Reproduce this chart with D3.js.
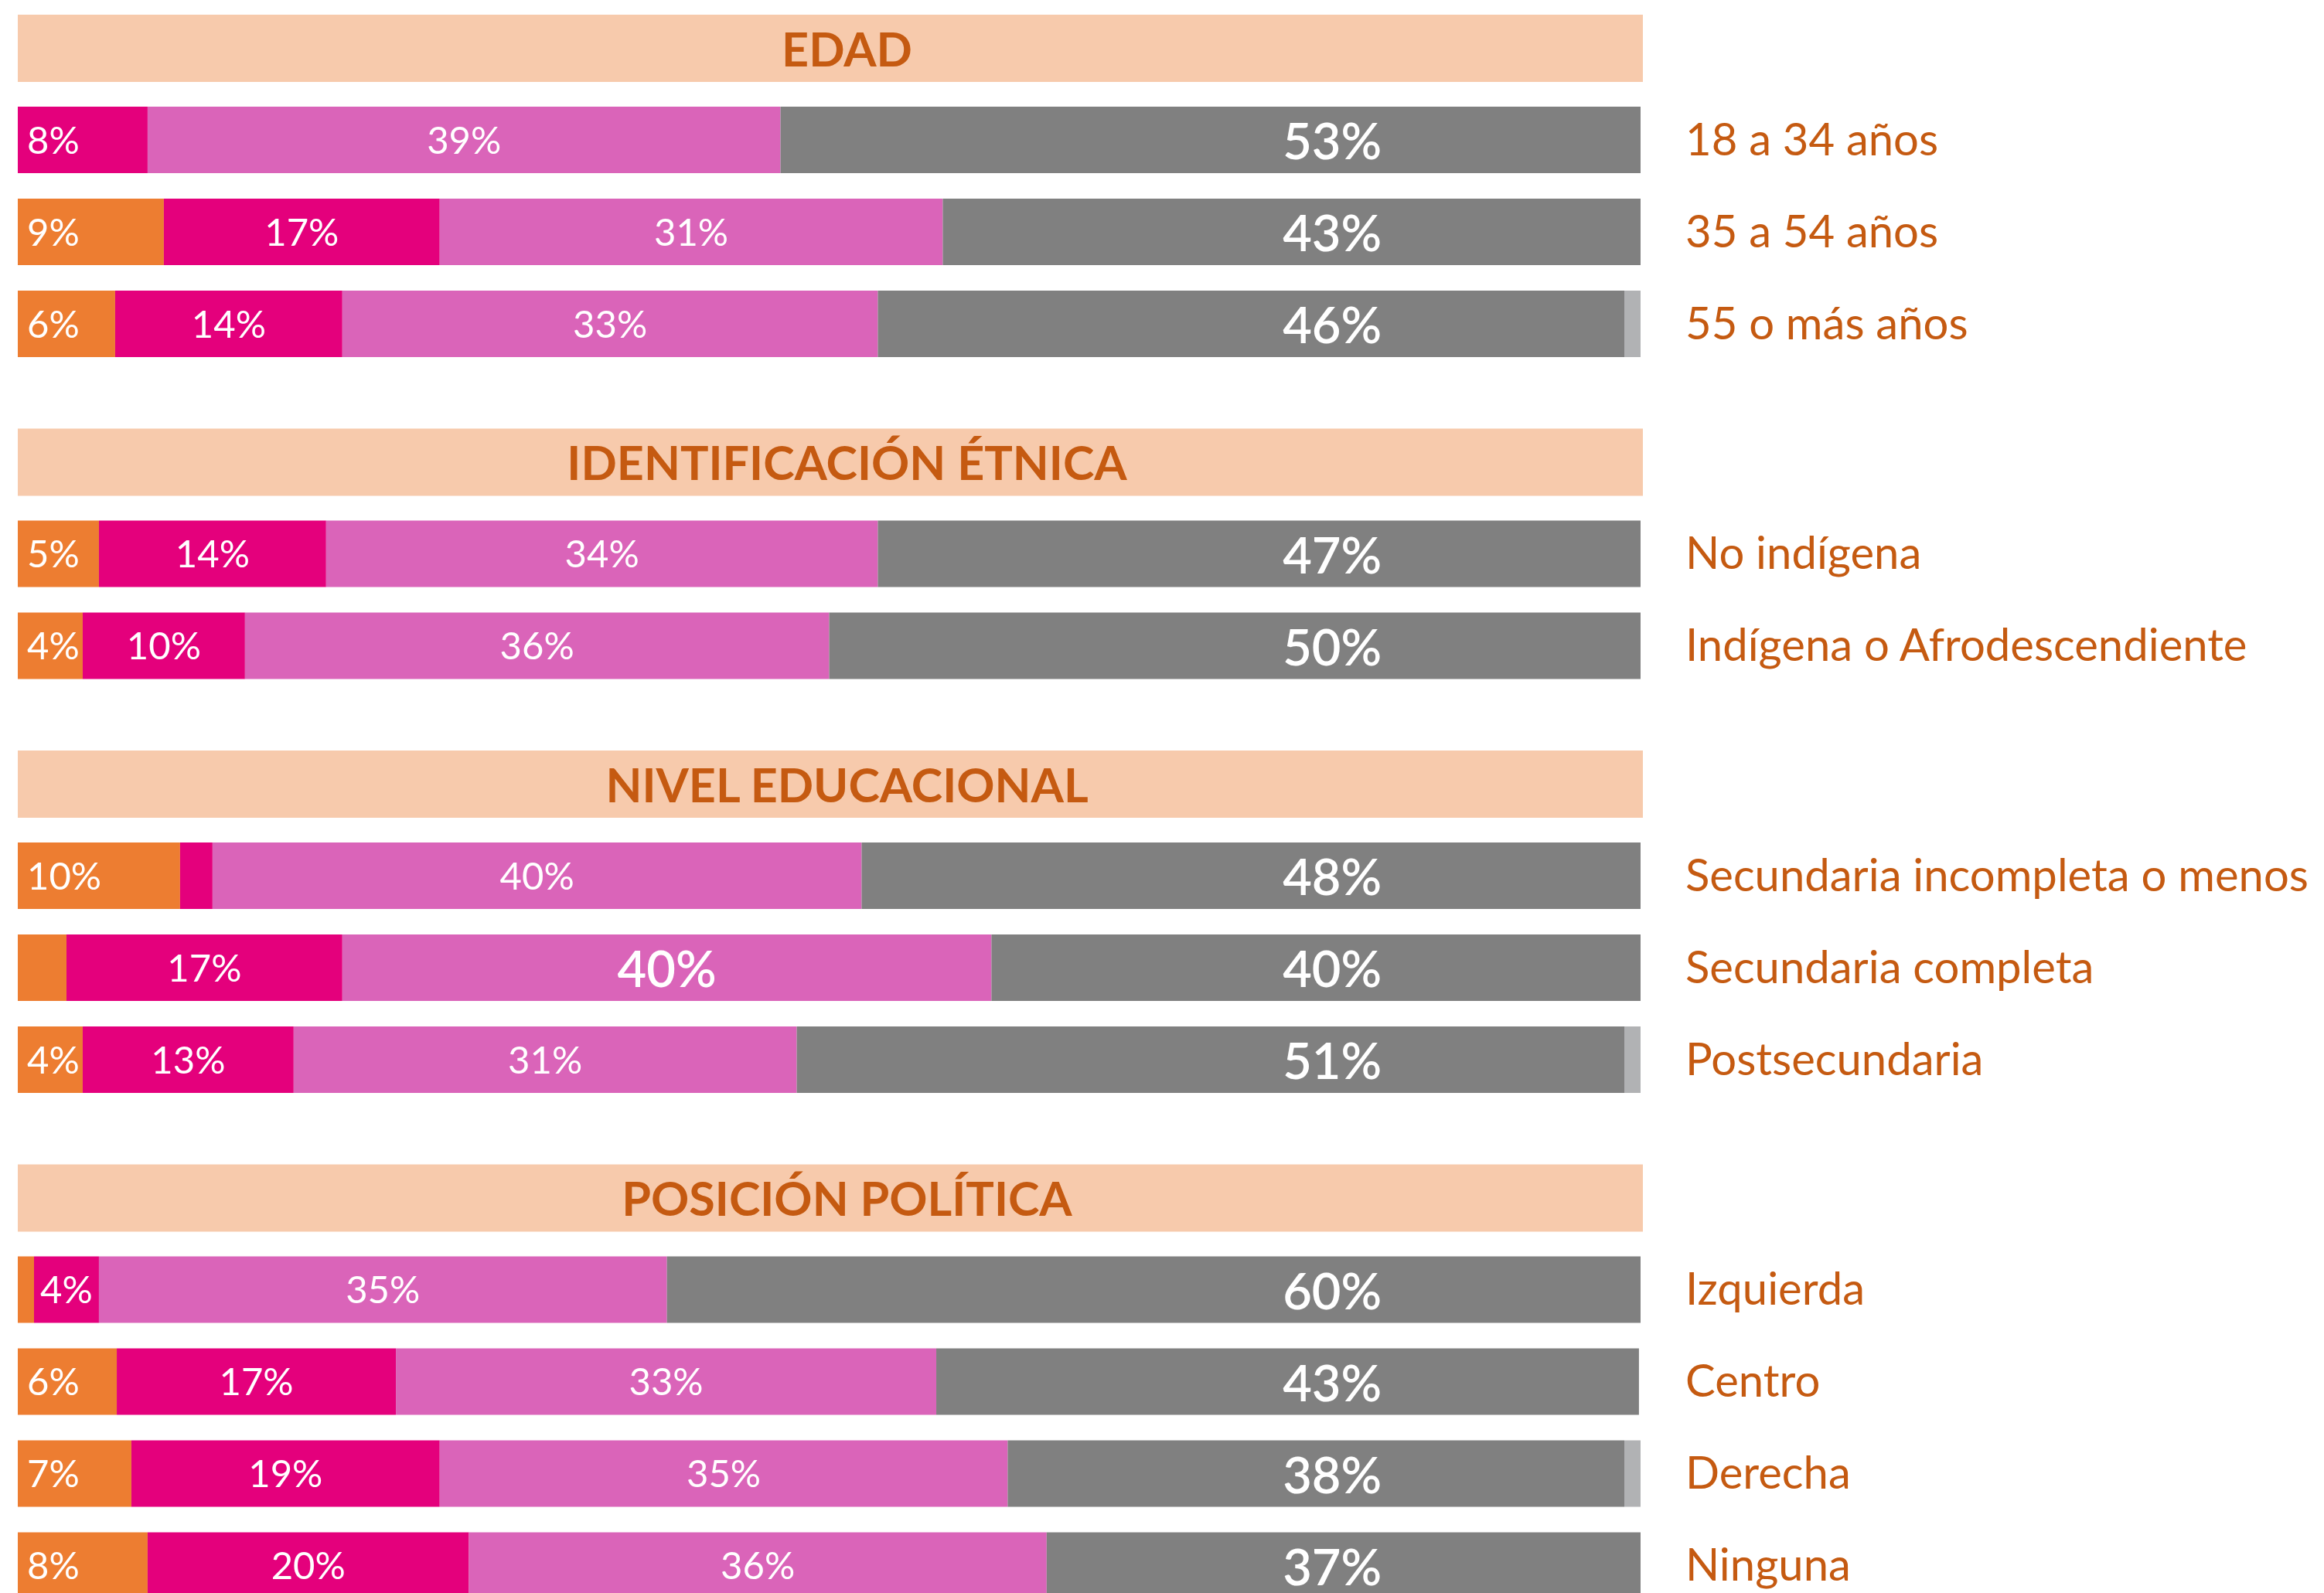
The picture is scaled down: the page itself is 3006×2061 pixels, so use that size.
<!DOCTYPE html>
<html>
<head>
<meta charset="utf-8">
<script src="https://cdn.jsdelivr.net/npm/d3@7"></script>
<style>
  body { margin: 0; background: #fff; }
  text { font-family: Lato, "Open Sans", sans-serif; }
</style>
</head>
<body>
<svg id="svg"></svg>
<script>
// values (percent)
const sections = ["EDAD", "IDENTIFICACIÓN ÉTNICA", "NIVEL EDUCACIONAL", "POSICIÓN POLÍTICA"];
const categories = ["18 a 34 años", "35 a 54 años", "55 o más años",
  "No indígena", "Indígena o Afrodescendiente",
  "Secundaria incompleta o menos", "Secundaria completa", "Postsecundaria",
  "Izquierda", "Centro", "Derecha", "Ninguna"];
const rowSection = [0, 0, 0, 1, 1, 2, 2, 2, 3, 3, 3, 3];

const naranja = [0, 9, 6, 5, 4, 10, 3, 4, 1, 6.1, 7, 8];
const magenta = [8, 17, 14, 14, 10, 2, 17, 13, 4, 17.2, 19, 19.8];
const rosa    = [39, 31, 33, 34, 36, 40, 40, 31, 35, 33.3, 35, 35.6];
const gris    = [53, 43, 46, 47, 50, 48, 40, 51, 60, 43.3, 38, 36.6];
const nsnr    = [0, 0, 1, 0, 0, 0, 0, 1, 0, 0, 1, 0];

const keys = ["naranja", "magenta", "rosa", "gris", "nsnr"];
const colors = ["#ED7D31", "#E4007C", "#DA64B9", "#808080", "#B1B2B4"];

const w = 3006;
const h = 2061;
const barH = 86;
const orangeText = "#C55A11";

const svg = d3.select("#svg")
  .attr("width", w)
  .attr("height", h);

const x = d3.scaleLinear().domain([0, 100]).range([23, 2122]);
// one slot per header/bar, half a slot between sections
const slot = d3.scaleLinear().domain([0, 1]).range([19, 138]);

const headerSlot = [];
const rowSlot = [];
let s = 0;
sections.forEach(function (name, i) {
  headerSlot.push(s);
  s += 1;
  rowSection.forEach(function (sec, j) {
    if (sec == i) { rowSlot[j] = s; s += 1; }
  });
  s += 0.5;
});

const data = categories.map(function (c, i) {
  return { cat: c, row: i, naranja: naranja[i], magenta: magenta[i], rosa: rosa[i], gris: gris[i], nsnr: nsnr[i] };
});

const stacked = d3.stack().keys(keys)(data);

// section headers
const head = svg.selectAll("g.head")
  .data(sections)
  .enter()
  .append("g")
  .attr("class", "head");

head.append("rect")
  .attr("x", x(0))
  .attr("y", (d, i) => slot(headerSlot[i]))
  .attr("width", x(100) - x(0) + 3)
  .attr("height", 87)
  .attr("fill", "#F7CAAC");

head.append("text")
  .attr("x", (x(0) + x(100)) / 2 + 23)
  .attr("y", (d, i) => slot(headerSlot[i]) + 87 / 2 + 61 * 0.38)
  .attr("text-anchor", "middle")
  .attr("font-size", 61)
  .attr("font-weight", "bold")
  .attr("fill", orangeText)
  .text(d => d);

// bars
const layers = svg.selectAll("g.layer")
  .data(stacked)
  .enter()
  .append("g")
  .attr("class", "layer")
  .attr("fill", (d, i) => colors[i]);

layers.selectAll("rect")
  .data(d => d)
  .enter()
  .append("rect")
  .attr("x", d => x(d[0]))
  .attr("y", d => slot(rowSlot[d.data.row]))
  .attr("width", d => x(d[1]) - x(d[0]))
  .attr("height", barH);

// value labels, the largest share of each row is written bigger
const labels = [];
stacked.forEach(function (layer) {
  layer.forEach(function (d) {
    const v = Math.round(d[1] - d[0]);
    if (v < 4) return;
    const row = d.data.row;
    const rowMax = d3.max(keys, k => Math.round(d.data[k]));
    const big = v == rowMax;
    let px, anchor;
    if (layer.key == "gris") { px = x(81); anchor = "middle"; }
    else if (d[0] == 0) { px = x(0) + 12; anchor = "start"; }
    else { px = x((d[0] + d[1]) / 2); anchor = "middle"; }
    labels.push({ text: v + "%", x: px, anchor: anchor, big: big, row: row });
  });
});

svg.selectAll("text.val")
  .data(labels)
  .enter()
  .append("text")
  .attr("class", "val")
  .attr("x", d => d.x)
  .attr("y", d => slot(rowSlot[d.row]) + barH / 2 + (d.big ? 65 * 0.39 : 49 * 0.36))
  .attr("text-anchor", d => d.anchor)
  .attr("font-size", d => d.big ? 65 : 49)
  .attr("font-weight", d => d.big ? 600 : 400)
  .attr("fill", "#fff")
  .text(d => d.text);

// category labels
svg.selectAll("text.cat")
  .data(categories)
  .enter()
  .append("text")
  .attr("class", "cat")
  .attr("x", 2180)
  .attr("y", (d, i) => slot(rowSlot[i]) + barH / 2 + 58 * 0.34)
  .attr("font-size", 58)
  .attr("fill", orangeText)
  .text(d => d);
</script>
</body>
</html>
